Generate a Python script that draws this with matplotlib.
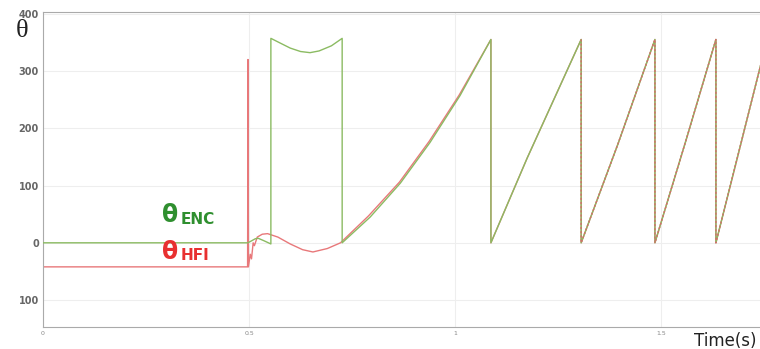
#HFI vs encoder angle at start-up
#sawtooth rotor angle in degrees against time

import matplotlib.pyplot as plt

# encoder angle (green)
enc_t = [0.0, 0.497, 0.505, 0.515, 0.522, 0.535, 0.553, 0.553, 0.575, 0.60, 0.625, 0.648,
         0.67, 0.70, 0.726, 0.726, 0.794, 0.867, 0.939, 1.012, 1.087, 1.087, 1.175, 1.306,
         1.306, 1.395, 1.485, 1.485, 1.560, 1.633, 1.633, 1.745]
enc_v = [0, 0, 3, 7, 8, 4, -2, 357, 349, 340, 334, 332,
         335, 344, 357, 0, 45, 104, 175, 257, 355, 0, 148, 355,
         0, 172, 355, 0, 178, 355, 0, 320]

# HFI estimated angle (red)
hfi_t = [0.0, 0.4965, 0.4975, 0.4985, 0.503, 0.506, 0.510, 0.513, 0.520, 0.532, 0.545, 0.57,
         0.60, 0.63, 0.655, 0.69, 0.722, 0.790, 0.865, 0.937, 1.010, 1.087, 1.087, 1.175,
         1.306, 1.306, 1.395, 1.485, 1.485, 1.560, 1.633, 1.633, 1.745]
hfi_v = [-42, -42, 320, -42, -20, -28, 0, -5, 10, 15, 16, 10,
         -2, -12, -16, -10, 0, 47, 106, 177, 258, 355, 0, 148,
         355, 0, 172, 355, 0, 178, 355, 0, 320]

y_ticks = [400, 300, 200, 100, 0, -100]
y_labels = ["400", "300", "200", "100", "0", "100"]
x_ticks = [0, 0.5, 1, 1.5]
x_labels = ["0", "0.5", "1", "1.5"]

fig = plt.figure(figsize=(7.6, 3.49), dpi=100)
ax = fig.add_axes([43/760, 22/349, 1 - 43/760, 1 - 34/349])

ax.plot(hfi_t, hfi_v, color="#e8787a", lw=1.0, zorder=2)
ax.plot(enc_t, enc_v, color="#8bbb62", lw=1.0, zorder=3)
# red dotted over the green where both agree
late = [i for i, t in enumerate(hfi_t) if t >= 1.3]
ax.plot([hfi_t[i] for i in late], [hfi_v[i] for i in late], color="#d0706a",
        lw=1.0, ls=(0, (1.5, 1.5)), zorder=4)

ax.set_xlim(0, 1.74)
ax.set_ylim(-147, 403)
ax.set_yticks(y_ticks)
ax.set_yticklabels(y_labels, fontsize=7, fontweight="bold", color="#666666")
ax.set_xticks(x_ticks)
ax.set_xticklabels(x_labels, fontsize=4.5, color="#888888")
ax.tick_params(length=0, pad=3)
ax.grid(True, color="#eeeeee", lw=0.8)
for side in ["left", "bottom", "top"]:
  ax.spines[side].set_color("#aaaaaa")
ax.spines["right"].set_visible(False)

# labels
fig.text(22/760, 1 - 31/349, "θ", fontsize=19, family="Liberation Serif",
         ha="center", va="center", color="#222222")
ax.text(0.309, 48, "θ", fontsize=17, color="#2f8f2f", ha="center", va="center", fontweight="bold")
ax.text(0.333, 41, "ENC", fontsize=11, color="#2f8f2f", ha="left", va="center", fontweight="bold")
ax.text(0.309, -16, "θ", fontsize=17, color="#e83030", ha="center", va="center", fontweight="bold")
ax.text(0.333, -22, "HFI", fontsize=11, color="#e83030", ha="left", va="center", fontweight="bold")
fig.text(757/760, 1 - 341/349, "Time(s)", fontsize=12, ha="right", va="center", color="#222222")

fig.savefig("out.png")
